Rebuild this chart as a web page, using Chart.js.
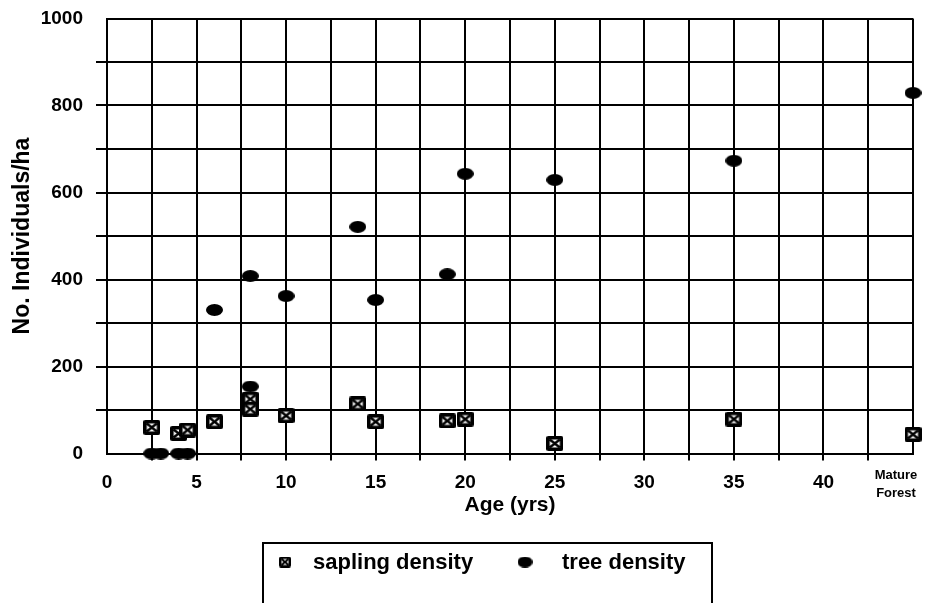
<!DOCTYPE html>
<html>
<head>
<meta charset="utf-8">
<script src="https://cdn.jsdelivr.net/npm/chart.js@4.4.1/dist/chart.umd.min.js"></script>
<style>
  html, body { margin: 0; padding: 0; background: #fff; }
  #wrap { width: 927px; height: 603px; position: relative; }
</style>
</head>
<body>
<div id="wrap"><canvas id="density"></canvas></div>
<script>
            // stand age (yrs); 45 = mature forest
            const saplingAge = [2.5, 4, 4.5, 6, 8, 8, 10, 14, 15, 19, 20, 25, 35, 45];
            const saplingDensity = [60, 46, 54, 73, 125, 102, 87, 114, 73, 75, 79, 23, 79, 44];
            const treeAge = [2.5, 3, 4, 4.5, 6, 8, 8, 10, 14, 15, 19, 20, 25, 35, 45];
            const treeDensity = [0, 0, 0, 0, 330, 408, 154, 362, 521, 353, 412, 643, 629, 673, 829];
            const xTickLabels = ['0', '5', '10', '15', '20', '25', '30', '35', '40'];
            const yTickLabels = ['0', '200', '400', '600', '800', '1000'];
            const matureLabel = ['Mature', 'Forest'];

            const FONT = "'Liberation Sans', Arial, Helvetica, sans-serif";

            // crossed-box marker for saplings
            function boxMarker(w, h, inset, lw) {
                const c = document.createElement('canvas');
                c.width = w; c.height = h;
                const g = c.getContext('2d');
                g.fillStyle = '#000';
                g.beginPath();
                g.roundRect(0, 0, w, h, 2);
                g.fill();
                g.fillStyle = '#fff';
                g.fillRect(inset, inset, w - 2 * inset, h - 2 * inset);
                g.strokeStyle = '#000';
                g.lineWidth = lw;
                g.beginPath();
                g.moveTo(inset, inset); g.lineTo(w - inset, h - inset);
                g.moveTo(w - inset, inset); g.lineTo(inset, h - inset);
                g.stroke();
                return c;
            }

            // flattened dot for trees
            function dotMarker(w, h) {
                const c = document.createElement('canvas');
                c.width = w; c.height = h;
                const g = c.getContext('2d');
                g.fillStyle = '#000';
                g.beginPath();
                g.ellipse(w / 2, h / 2, w / 2, h / 2, 0, 0, Math.PI * 2);
                g.fill();
                return c;
            }

            const saplingIcon = boxMarker(17, 15, 3.5, 2.4);
            const treeIcon = dotMarker(17, 12);
            const saplingKey = boxMarker(12, 11, 2.5, 2);
            const treeKey = dotMarker(15, 11);

            const boxedLegend = {
                id: 'boxedLegend',
                afterDraw: (chart) => {
                    const { ctx } = chart;
                    const ds = chart.data.datasets;
                    ctx.save();
                    ctx.strokeStyle = '#000';
                    ctx.lineWidth = 2;
                    ctx.strokeRect(263, 543, 449, 90);

                    ctx.drawImage(saplingKey, 285 - 6, 562 - 5.5);
                    ctx.drawImage(treeKey, 525 - 7.5, 562 - 5.5);
                    ctx.fillStyle = '#000';
                    ctx.font = 'bold 22px ' + FONT;
                    ctx.textAlign = 'left';
                    ctx.textBaseline = 'alphabetic';
                    ctx.fillText(ds[0].label, 313, 569);
                    ctx.fillText(ds[1].label, 562, 569);

                    // last x category is not a number
                    const x = chart.scales.x.getPixelForValue(45) - 17;
                    ctx.font = 'bold 13px ' + FONT;
                    ctx.textAlign = 'center';
                    ctx.textBaseline = 'middle';
                    ctx.fillText(matureLabel[0], x, 475);
                    ctx.fillText(matureLabel[1], x, 493);
                    ctx.restore();
                }
            };

            Chart.defaults.font.family = FONT;
            Chart.defaults.color = '#000';

            const edgeTick = (a, b) => (c) => (c.tick && (c.tick.value === a || c.tick.value === b)) ? 'rgba(0,0,0,0)' : '#000';

            new Chart(document.getElementById('density'), {
                type: 'scatter',
                data: {
                    datasets: [
                        {
                            label: 'sapling density',
                            data: saplingAge.map((a, i) => ({ x: a, y: saplingDensity[i] })),
                            pointStyle: saplingIcon,
                            clip: false
                        },
                        {
                            label: 'tree density',
                            data: treeAge.map((a, i) => ({ x: a, y: treeDensity[i] })),
                            pointStyle: treeIcon,
                            clip: false
                        }
                    ]
                },
                options: {
                    responsive: true,
                    maintainAspectRatio: false,
                    animation: false,
                    layout: { padding: { left: 0, right: 14, top: 18.5, bottom: 85.4 } },
                    scales: {
                        x: {
                            type: 'linear',
                            min: 0,
                            max: 45,
                            afterFit: (s) => { s.height = 64.1; },
                            border: { display: true, color: '#000', width: 2 },
                            grid: { color: '#000', lineWidth: 2, tickLength: 7, tickColor: edgeTick(0, 45), tickWidth: 2 },
                            ticks: {
                                stepSize: 2.5,
                                autoSkip: false,
                                maxRotation: 0,
                                padding: 11,
                                font: { size: 19, weight: 'bold' },
                                callback: (v) => {
                                    const i = xTickLabels.indexOf(String(v));
                                    return i >= 0 ? xTickLabels[i] : '';
                                }
                            },
                            title: {
                                display: true,
                                text: 'Age (yrs)',
                                font: { size: 21, weight: 'bold' },
                                padding: 0
                            }
                        },
                        y: {
                            min: 0,
                            max: 1000,
                            afterFit: (s) => {
                                s.width = 107;
                                s.paddingTop = 0;
                                s.paddingBottom = 0;
                            },
                            border: { display: true, color: '#000', width: 2 },
                            grid: { color: '#000', lineWidth: 2, tickLength: 11, tickColor: edgeTick(0, 1000), tickWidth: 2 },
                            ticks: {
                                stepSize: 100,
                                autoSkip: false,
                                padding: 13,
                                font: { size: 19, weight: 'bold' },
                                callback: (v) => {
                                    const i = yTickLabels.indexOf(String(v));
                                    return i >= 0 ? yTickLabels[i] : '';
                                }
                            },
                            title: {
                                display: true,
                                text: 'No. Individuals/ha',
                                font: { size: 23, weight: 'bold' },
                                padding: { top: 9, bottom: 0 }
                            }
                        }
                    },
                    elements: { point: { radius: 8, hoverRadius: 8 } },
                    plugins: {
                        legend: { display: false },
                        tooltip: { enabled: false }
                    }
                },
                plugins: [boxedLegend]
            });
</script>
</body>
</html>
